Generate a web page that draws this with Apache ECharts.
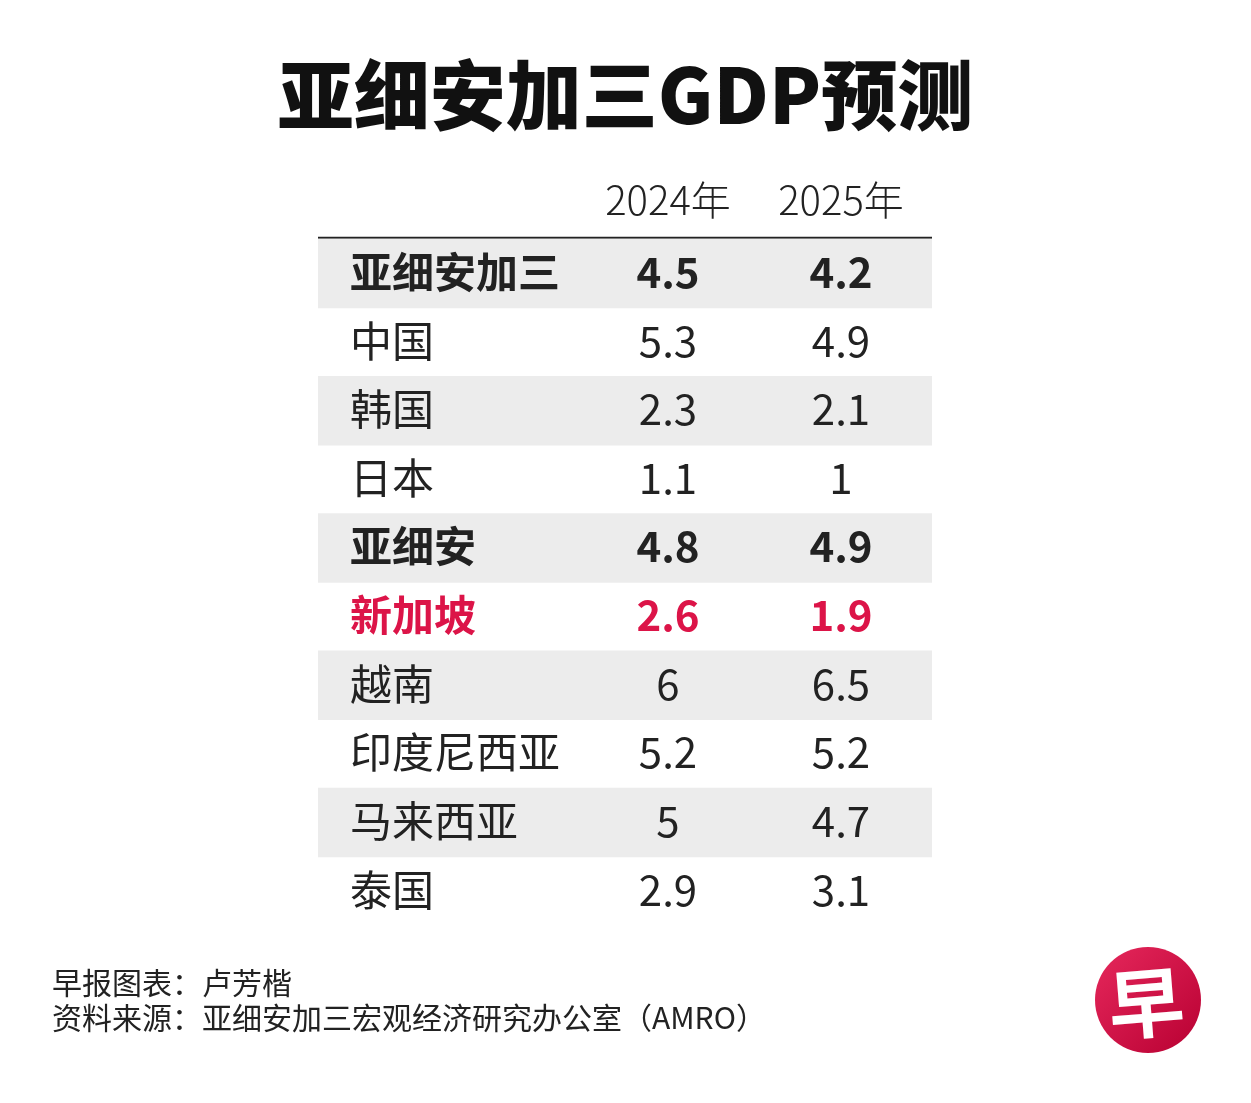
<!DOCTYPE html>
<html>
<head>
<meta charset="utf-8">
<title>亚细安加三GDP预测</title>
<script src="https://cdn.jsdelivr.net/npm/echarts@6/dist/echarts.min.js"></script>
<style>
html, body { margin: 0; padding: 0; background: #fff; }
#main { width: 1251px; height: 1103px; }
</style>
</head>
<body>
<div id="main"></div>
<script>
// 数据
var years = ['2024年', '2025年'];
var regions = ['亚细安加三', '中国', '韩国', '日本', '亚细安', '新加坡', '越南', '印度尼西亚', '马来西亚', '泰国'];
var gdp2024 = ['4.5', '5.3', '2.3', '1.1', '4.8', '2.6', '6', '5.2', '5', '2.9'];
var gdp2025 = ['4.2', '4.9', '2.1', '1', '4.9', '1.9', '6.5', '5.2', '4.7', '3.1'];
var boldRows = ['亚细安加三', '亚细安', '新加坡'];
var redRow = '新加坡';

var FONT = '"Noto Sans CJK SC", "Noto Sans", sans-serif';
var RED = '#dc1448';

var myChart = echarts.init(document.getElementById('main'));

// 第0行是表头
var rowCats = [''].concat(regions);
var rows = [];
for (var i = 0; i < rowCats.length; i++) {
    rows.push([i]);
}

function renderRow(params, api) {
    var idx = api.value(0);
    var left = api.coord([0, idx]);
    var right = api.coord([614, idx]);
    var h = api.size([0, 1])[1];
    var cy = left[1];
    var top = cy - h / 2;
    var colLabel = api.coord([32, idx])[0];
    var col1 = api.coord([350, idx])[0];
    var col2 = api.coord([523, idx])[0];
    var children = [];

    if (idx === 0) {
        for (var k = 0; k < years.length; k++) {
            children.push({
                type: 'text',
                style: {
                    text: years[k], x: k === 0 ? col1 : col2, y: cy - 4,
                    align: 'center', verticalAlign: 'middle',
                    fontSize: 40, fontWeight: 300, fontFamily: FONT, fill: '#222'
                }
            });
        }
        // 表头下的黑线
        children.push({
            type: 'rect',
            shape: { x: left[0], y: top + h - 1, width: right[0] - left[0], height: 2 },
            style: { fill: '#222' }
        });
        return { type: 'group', children: children };
    }

    var name = regions[idx - 1];
    var bold = boldRows.indexOf(name) >= 0;
    var color = name === redRow ? RED : '#222';
    if (idx % 2 === 1) {
        children.push({
            type: 'rect',
            shape: { x: left[0], y: top + 1, width: right[0] - left[0], height: h + 1 },
            style: { fill: '#ececec' }
        });
    }
    var texts = [
        [name, colLabel, 'left'],
        [gdp2024[idx - 1], col1, 'center'],
        [gdp2025[idx - 1], col2, 'center']
    ];
    for (var t = 0; t < texts.length; t++) {
        children.push({
            type: 'text',
            style: {
                text: texts[t][0], x: texts[t][1], y: cy,
                align: texts[t][2], verticalAlign: 'middle',
                fontSize: 42, fontWeight: bold ? 'bold' : 'normal',
                fontFamily: FONT, fill: color
            }
        });
    }
    return { type: 'group', children: children };
}

var option = {
    backgroundColor: '#fff',
    animation: false,
    title: {
        text: '亚细安加三GDP预测',
        left: 'center',
        top: 52,
        textStyle: { fontSize: 76, fontWeight: 900, fontFamily: FONT, color: '#111' }
    },
    grid: { left: 318, top: 169, width: 614, height: 755 },
    xAxis: { type: 'value', min: 0, max: 614, show: false },
    yAxis: {
        type: 'category',
        inverse: true,
        data: rowCats,
        show: false
    },
    series: [{
        type: 'custom',
        renderItem: renderRow,
        data: rows,
        clip: false
    }],
    graphic: [
        {
            type: 'text', left: 52, top: 968,
            style: { text: '早报图表：卢芳楷', fontSize: 30, fontFamily: FONT, fill: '#222' }
        },
        {
            type: 'text', left: 52, top: 1003,
            style: { text: '资料来源：亚细安加三宏观经济研究办公室（AMRO）', fontSize: 30, fontFamily: FONT, fill: '#222' }
        },
        // 早报标志
        {
            type: 'circle',
            shape: { cx: 1148, cy: 1000, r: 53 },
            style: {
                fill: new echarts.graphic.LinearGradient(0, 0, 1, 1, [
                    { offset: 0, color: '#e6285c' },
                    { offset: 1, color: '#b80032' }
                ])
            }
        },
        {
            type: 'text', x: 1146, y: 1003, rotation: 0.08,
            style: {
                text: '早', align: 'center', verticalAlign: 'middle',
                fontSize: 76, fontWeight: 'bold', fontFamily: FONT, fill: '#fff'
            }
        }
    ]
};
myChart.setOption(option);
</script>
</body>
</html>
